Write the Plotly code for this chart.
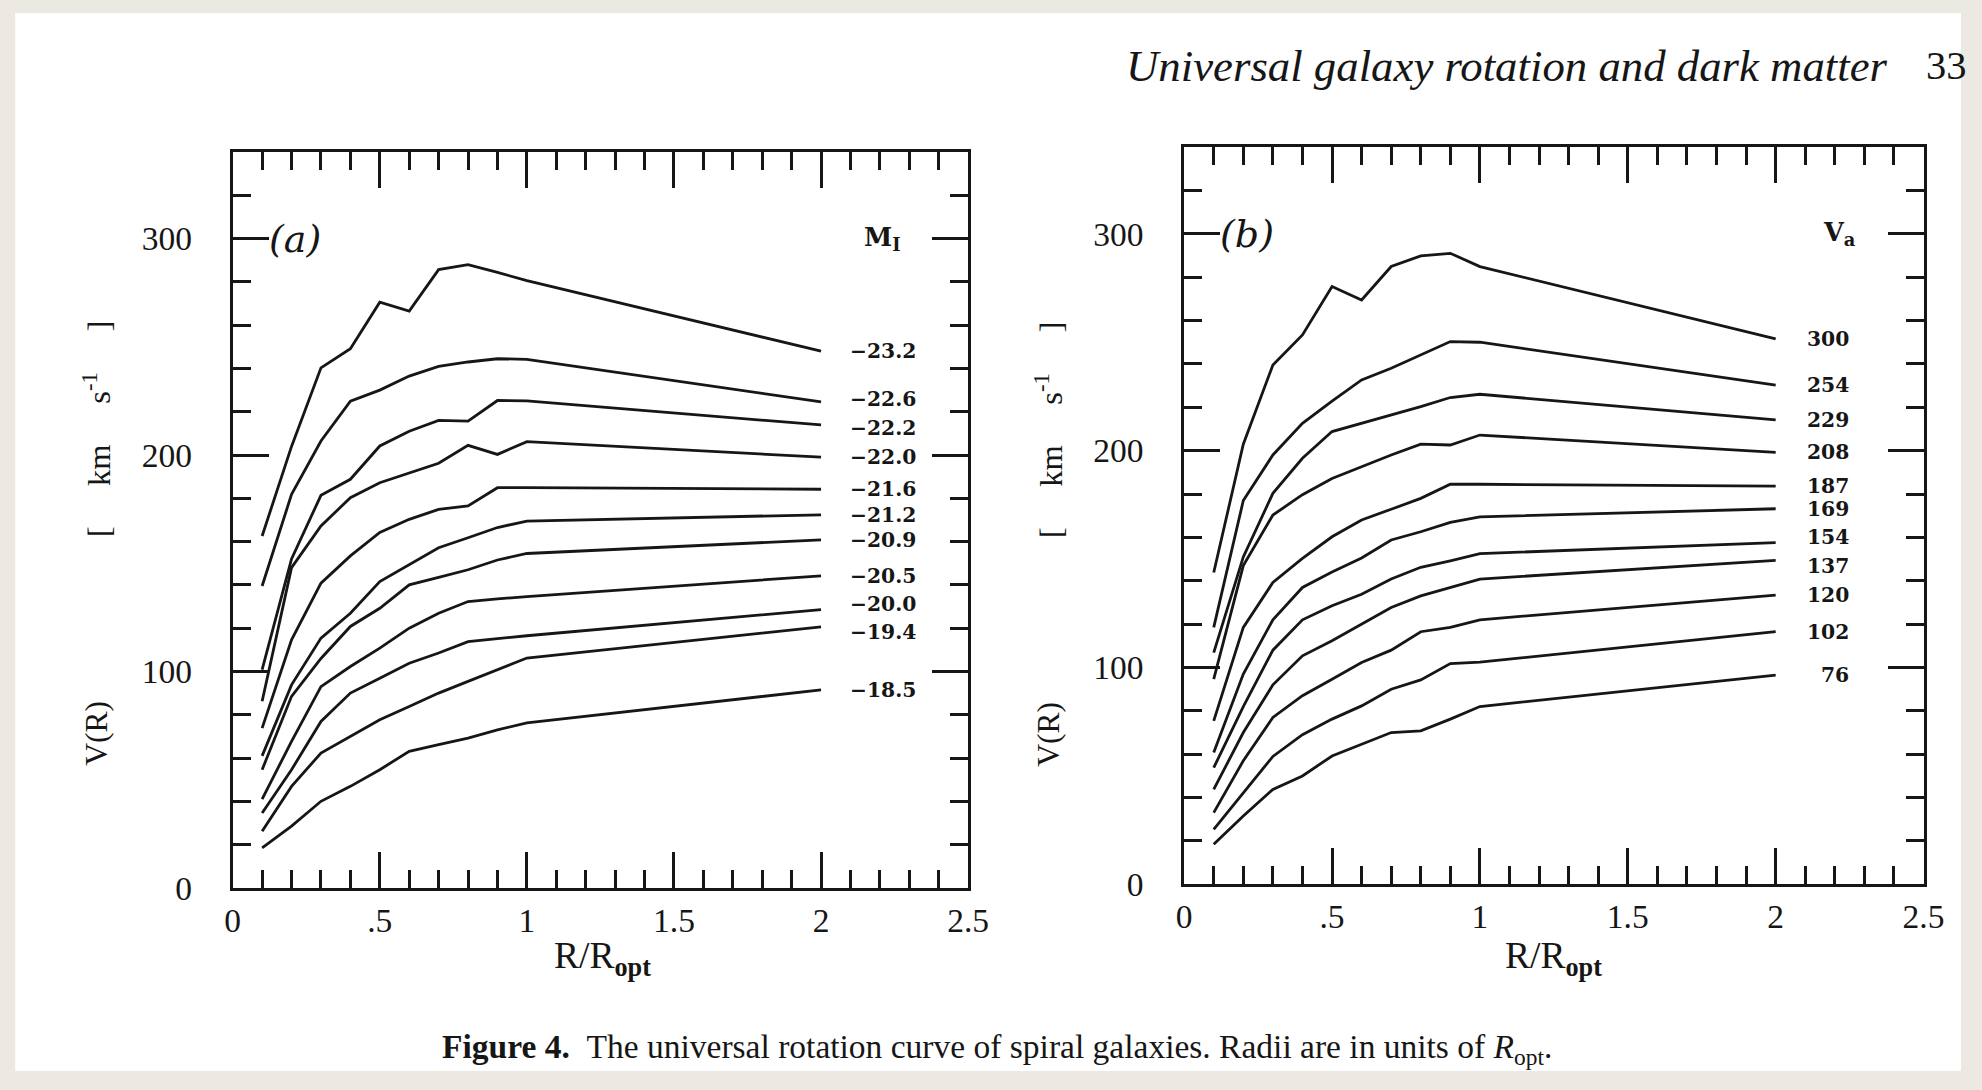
import plotly.graph_objects as go

# Radii in units of R_opt
R = [0.1, 0.2, 0.3, 0.4, 0.5, 0.6, 0.7, 0.8, 0.9, 1.0, 2.0]

# Panel (a): curves binned by I-band absolute magnitude
mag_labels = ["−23.2", "−22.6", "−22.2", "−22.0", "−21.6", "−21.2",
              "−20.9", "−20.5", "−20.0", "−19.4", "−18.5"]
v_m232 = [162.6, 204.0, 240.3, 249.1, 270.6, 266.5, 285.7, 288.0, 284.4, 280.6, 248.0]
v_m226 = [139.5, 181.8, 206.5, 224.9, 230.0, 236.5, 241.0, 243.0, 244.5, 244.2, 224.6]
v_m222 = [100.8, 152.0, 181.4, 188.8, 204.2, 211.0, 216.0, 215.7, 225.2, 225.0, 213.9]
v_m220 = [86.2, 148.0, 167.2, 180.3, 187.2, 191.8, 196.2, 204.5, 200.3, 206.2, 199.0]
v_m216 = [73.8, 114.6, 140.8, 153.4, 164.2, 170.3, 174.9, 176.5, 184.9, 184.9, 184.2]
v_m212 = [61.0, 93.8, 115.4, 126.9, 141.5, 149.5, 157.2, 161.8, 166.5, 169.5, 172.4]
v_m209 = [54.6, 88.5, 106.0, 120.8, 129.2, 140.0, 143.5, 147.0, 151.5, 154.5, 160.8]
v_m205 = [41.0, 67.7, 93.0, 102.3, 110.8, 120.0, 126.9, 132.3, 133.5, 134.6, 144.2]
v_m200 = [34.6, 54.6, 76.9, 90.0, 96.9, 103.8, 108.5, 113.8, 115.2, 116.5, 128.6]
v_m194 = [26.2, 46.9, 62.3, 70.0, 77.7, 83.8, 90.0, 95.4, 100.8, 106.2, 120.6]
v_m185 = [18.5, 28.5, 40.0, 46.9, 54.6, 63.1, 66.2, 69.2, 73.0, 76.2, 91.5]
curves_a = [v_m232, v_m226, v_m222, v_m220, v_m216, v_m212,
            v_m209, v_m205, v_m200, v_m194, v_m185]

# Panel (b): curves binned by rotation velocity at R_opt
vel_labels = ["300", "254", "229", "208", "187", "169",
              "154", "137", "120", "102", "76"]
v_v300 = [143.8, 203.0, 239.5, 253.4, 275.7, 269.5, 284.9, 289.8, 291.0, 284.9, 251.5]
v_v254 = [118.5, 177.0, 198.0, 212.6, 222.8, 232.6, 238.0, 244.2, 250.3, 250.0, 230.2]
v_v229 = [106.9, 151.0, 180.3, 196.5, 208.8, 212.6, 216.5, 220.3, 224.5, 226.0, 214.2]
v_v208 = [94.6, 147.0, 170.3, 179.7, 187.2, 192.6, 198.0, 203.0, 202.6, 207.2, 199.2]
v_v187 = [75.4, 118.5, 139.2, 150.3, 160.3, 168.0, 173.0, 178.0, 184.5, 184.5, 183.6]
v_v169 = [60.8, 97.0, 122.0, 136.9, 144.0, 150.5, 158.8, 162.6, 166.9, 169.5, 173.2]
v_v154 = [53.8, 82.0, 108.0, 122.0, 128.5, 133.8, 140.8, 146.2, 149.2, 152.5, 157.6]
v_v137 = [43.8, 70.0, 92.0, 105.4, 112.3, 120.0, 127.7, 133.0, 136.9, 140.8, 149.4]
v_v120 = [33.1, 57.0, 77.0, 87.0, 94.6, 102.3, 108.0, 116.5, 118.5, 122.0, 133.4]
v_v102 = [25.4, 42.0, 59.0, 69.0, 76.2, 82.3, 90.0, 94.3, 101.8, 102.5, 116.5]
v_v076 = [18.5, 31.5, 43.8, 50.0, 59.2, 64.6, 70.0, 70.8, 76.2, 82.0, 96.5]
curves_b = [v_v300, v_v254, v_v229, v_v208, v_v187, v_v169,
            v_v154, v_v137, v_v120, v_v102, v_v076]

x_tickvals = [0, 0.5, 1, 1.5, 2, 2.5]
x_ticktext = ["0", ".5", "1", "1.5", "2", "2.5"]
y_tickvals = [0, 100, 200, 300]
y_ticktext = ["0", "100", "200", "300"]

INK = "#161616"
TICK_FONT = dict(family="Liberation Serif", size=33.5, color=INK)
LABEL_FONT = dict(family="DejaVu Serif", size=20.3, color=INK)

W, H = 1982, 1090
# the page is displayed slightly scaled; map wanted page pixels to figure pixels
SX, BX, SY, BY = 0.9875, 5.8, 0.9815, 0.1


def px(x):
    return (x - BX) / SX / W


def py(y):
    return 1 - (y - BY) / SY / H


dom_a = dict(x=[px(231), px(968)], y=[py(887), py(152)])
dom_b = dict(x=[px(1184.5), px(1925.5)], y=[py(883.5), py(147)])

fig = go.Figure()

for curves, xa, ya in [(curves_a, "x", "y"), (curves_b, "x2", "y2")]:
    for v in curves:
        fig.add_trace(go.Scatter(x=R, y=v, mode="lines", xaxis=xa, yaxis=ya,
                                 line=dict(color=INK, width=2.8),
                                 showlegend=False, hoverinfo="skip"))

common = dict(showgrid=False, zeroline=False, showline=True,
              linecolor=INK, linewidth=2.8, ticks="inside",
              tickcolor=INK, tickwidth=2.5)


def xax(domain, anchor, labels=True, side="bottom", overlay=None):
    d = dict(common, range=[0, 2.5], tickmode="array", tickvals=x_tickvals,
             ticktext=x_ticktext, ticklen=36, side=side, anchor=anchor,
             showticklabels=labels, tickfont=TICK_FONT, ticklabelstandoff=1,
             minor=dict(tickmode="linear", tick0=0, dtick=0.1, ticks="inside",
                        ticklen=18, tickwidth=2.5, tickcolor=INK))
    if overlay:
        d["overlaying"] = overlay
        d["matches"] = overlay
    else:
        d["domain"] = domain
    return d


def yax(domain, anchor, labels=True, side="left", overlay=None):
    d = dict(common, range=[0, 340], tickmode="array", tickvals=y_tickvals,
             ticktext=y_ticktext, ticklen=36, side=side, anchor=anchor,
             showticklabels=labels, tickfont=TICK_FONT, ticklabelstandoff=31,
             minor=dict(tickmode="linear", tick0=0, dtick=20, ticks="inside",
                        ticklen=18, tickwidth=2.5, tickcolor=INK))
    if overlay:
        d["overlaying"] = overlay
        d["matches"] = overlay
    else:
        d["domain"] = domain
    return d


fig.update_layout(
    xaxis=xax(dom_a["x"], "y"),
    yaxis=yax(dom_a["y"], "x"),
    xaxis2=xax(dom_b["x"], "y2"),
    yaxis2=yax(dom_b["y"], "x2"),
    # mirrored tick marks on the top and right edges
    xaxis3=xax(None, "y", labels=False, side="top", overlay="x"),
    yaxis3=yax(None, "x", labels=False, side="right", overlay="y"),
    xaxis4=xax(None, "y2", labels=False, side="top", overlay="x2"),
    yaxis4=yax(None, "x2", labels=False, side="right", overlay="y2"),
)
# empty traces so the mirrored axes are drawn
for xa, ya in [("x3", "y3"), ("x4", "y4")]:
    fig.add_trace(go.Scatter(x=[None], y=[None], xaxis=xa, yaxis=ya,
                             showlegend=False, hoverinfo="skip"))

# small vertical nudges for labels whose curves end very close together
nudge_a = {"−20.0": 2.5, "−19.4": -2.5, "−22.6": 1.5, "−22.2": -1.5}
nudge_b = {"154": 2.5, "137": -2.5}

ann = []
# end-of-curve labels
for curves, labels, nudge, xref, yref, xpos in [
        (curves_a, mag_labels, nudge_a, "x", "y", 2.33),
        (curves_b, vel_labels, nudge_b, "x2", "y2", 2.255)]:
    for v, lab in zip(curves, labels):
        ann.append(dict(x=xpos, y=v[-1] + nudge.get(lab, 0), xref=xref, yref=yref,
                        text="<b>%s</b>" % lab, showarrow=False,
                        xanchor="right", yanchor="middle", font=LABEL_FONT))

# panel tags and bin keys
for xref, yref, tag in [("x", "y", "(a)"), ("x2", "y2", "(b)")]:
    ann.append(dict(x=0.115, y=300, xref=xref, yref=yref, text="<i>%s</i>" % tag,
                    showarrow=False, xanchor="left", yanchor="middle",
                    font=dict(family="DejaVu Serif", size=38, color=INK)))
ann.append(dict(x=2.21, y=300, xref="x", yref="y", text="<b>M<sub>I</sub></b>",
                showarrow=False, xanchor="center", yanchor="middle",
                font=dict(family="DejaVu Serif", size=25.5, color=INK)))
ann.append(dict(x=2.215, y=300, xref="x2", yref="y2", text="<b>V<sub>a</sub></b>",
                showarrow=False, xanchor="center", yanchor="middle",
                font=dict(family="DejaVu Serif", size=25.5, color=INK)))

# axis titles
for xc in [602, 1555]:
    ann.append(dict(x=px(xc), y=py(958), xref="paper", yref="paper",
                    text="R/R<sub><b>opt</b></sub>", showarrow=False,
                    xanchor="center", yanchor="middle",
                    font=dict(family="Liberation Serif", size=37.5, color=INK)))
sp = "\u00a0" * 5
for xp in [95, 1049]:
    ann.append(dict(x=px(xp), y=py(733), xref="paper", yref="paper",
                    text="V(R)", textangle=-90, showarrow=False,
                    xanchor="center", yanchor="middle",
                    font=dict(family="Liberation Serif", size=31.5, color=INK)))
    ann.append(dict(x=px(xp), y=py(429), xref="paper", yref="paper",
                    text="[" + sp + "km" + sp + "s<sup>-1</sup>" + sp + "]",
                    textangle=-90, showarrow=False,
                    xanchor="center", yanchor="middle",
                    font=dict(family="Liberation Serif", size=32.5, color=INK)))

# running head and caption
ann.append(dict(x=px(1892), y=py(66), xref="paper", yref="paper",
                text="<i>Universal galaxy rotation and dark matter</i>",
                showarrow=False, xanchor="right", yanchor="middle",
                font=dict(family="Liberation Serif", size=44.8, color=INK)))
ann.append(dict(x=1990 / W, y=py(66), xref="paper", yref="paper",
                text="33", showarrow=False, xanchor="right", yanchor="middle",
                font=dict(family="Liberation Serif", size=40.5, color=INK)))
ann.append(dict(x=px(997), y=py(1048), xref="paper", yref="paper",
                text="<b>Figure 4.</b>\u00a0\u00a0The universal rotation curve of spiral "
                     "galaxies. Radii are in units of <i>R</i><sub>opt</sub>.",
                showarrow=False, xanchor="center", yanchor="middle",
                font=dict(family="Liberation Serif", size=33.5, color=INK)))

fig.update_layout(
    width=W, height=H, margin=dict(l=0, r=0, t=0, b=0),
    paper_bgcolor="#ECE9E3", plot_bgcolor="rgba(0,0,0,0)",
    annotations=ann,
    shapes=[dict(type="rect", xref="paper", yref="paper",
                 x0=px(13), x1=1.0, y0=0.0, y1=py(13),
                 fillcolor="white", line=dict(width=0), layer="below")],
)

fig.write_html("out.html")
